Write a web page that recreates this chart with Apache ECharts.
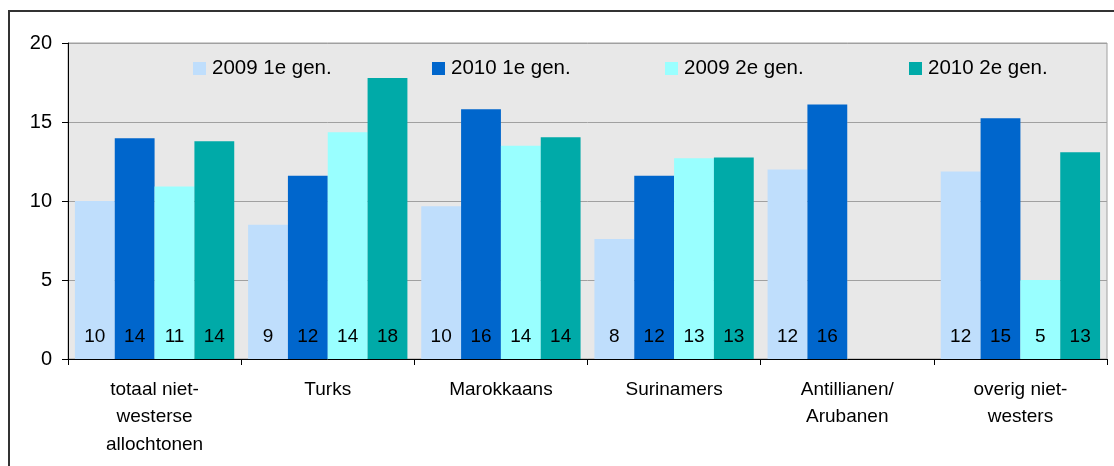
<!DOCTYPE html>
<html>
<head>
<meta charset="utf-8">
<script src="https://cdn.jsdelivr.net/npm/echarts@6/dist/echarts.min.js"></script>
<style>html,body{margin:0;padding:0;background:#fff}#c{width:1114px;height:466px}</style>
</head>
<body>
<div id="c"></div>
<script>
var categories = ['totaal niet-\nwesterse\nallochtonen', 'Turks', 'Marokkaans', 'Surinamers', 'Antillianen/\nArubanen', 'overig niet-\nwesters'];
var seriesNames = ['2009 1e gen.', '2010 1e gen.', '2009 2e gen.', '2010 2e gen.'];
var gen1_2009 = [10.0, 8.5, 9.67, 7.6, 12.0, 11.87];
var gen1_2010 = [13.97, 11.6, 15.8, 11.6, 16.1, 15.24];
var gen2_2009 = [10.92, 14.35, 13.5, 12.7, null, 5.0];
var gen2_2010 = [13.78, 17.78, 14.03, 12.76, null, 13.08];
var yTicks = [0, 5, 10, 15, 20];

var colors = ['#bfdefc', '#0066cc', '#99ffff', '#00aaa8'];
var allData = [gen1_2009, gen1_2010, gen2_2009, gen2_2010];
var font = 'Liberation Sans, Arial, sans-serif';
var legendLefts = [193, 432, 665, 909];

var chart = echarts.init(document.getElementById('c'), null, {renderer: 'canvas'});
chart.setOption({
  animation: false,
  textStyle: {fontFamily: font},
  graphic: [{
    type: 'rect', z: -10, silent: true,
    shape: {x: 9, y: 11, width: 1300, height: 700},
    style: {fill: 'none', stroke: '#333', lineWidth: 2}
  }],
  legend: seriesNames.map(function (n, i) {
    return {
      data: [n], left: legendLefts[i], top: 58, padding: 0,
      itemWidth: 13, itemHeight: 13, itemGap: 0,
      icon: 'rect',
      textStyle: {fontSize: 20.5, color: '#000', fontFamily: font, padding: [0, 0, 0, 1]}
    };
  }),
  grid: {
    left: 68, right: 7, top: 43, bottom: 107,
    show: true, backgroundColor: '#e8e8e8', borderColor: '#a0a0a0', borderWidth: 1
  },
  xAxis: {
    type: 'category', data: categories,
    axisLine: {lineStyle: {color: '#000', width: 1}},
    axisTick: {show: true, length: 6, lineStyle: {color: '#000'}},
    axisLabel: {fontSize: 19, color: '#000', lineHeight: 27.5, margin: 17, interval: 0, fontFamily: font}
  },
  yAxis: {
    type: 'value', min: yTicks[0], max: yTicks[yTicks.length - 1], interval: 5,
    axisLine: {show: true, lineStyle: {color: '#000', width: 1}},
    axisTick: {show: true, length: 6, lineStyle: {color: '#000'}},
    axisLabel: {fontSize: 20, color: '#000', margin: 16, fontFamily: font},
    splitLine: {lineStyle: {color: '#a0a0a0', width: 1}}
  },
  series: seriesNames.map(function (n, i) {
    return {
      name: n, type: 'bar', data: allData[i],
      barGap: '0%', barCategoryGap: '8%',
      itemStyle: {color: colors[i]},
      label: {
        show: true, position: 'insideBottom', distance: 13,
        fontSize: 19, color: '#000', fontFamily: font,
        formatter: function (p) { return p.value == null ? '' : Math.round(p.value); }
      }
    };
  })
});
</script>
</body>
</html>
